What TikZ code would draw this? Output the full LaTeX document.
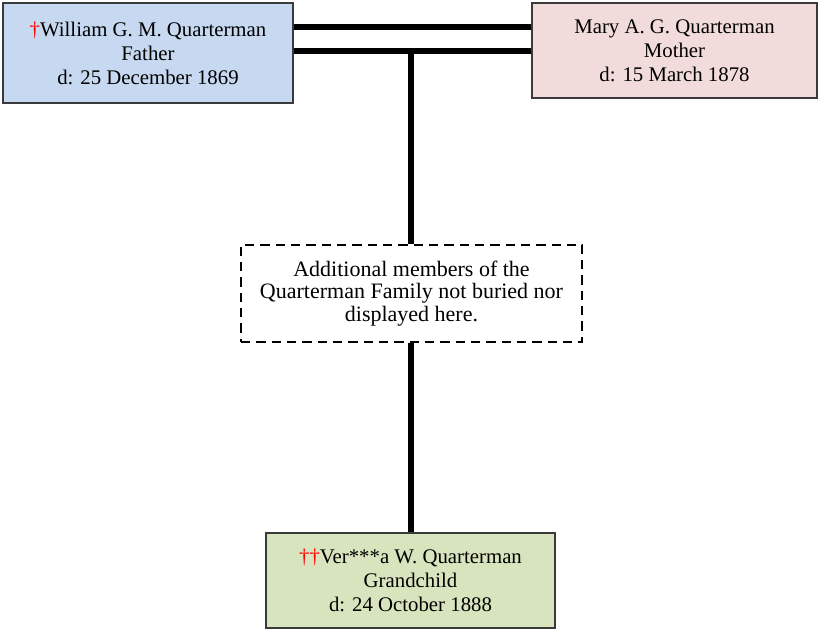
\documentclass[tikz,border=0pt]{standalone}
\usepackage{fontspec}
\setmainfont{Liberation Serif}
\usepackage{tikz}

\definecolor{fatherblue}{HTML}{C6D9F1}
\definecolor{motherpink}{HTML}{F2DCDB}
\definecolor{childgreen}{HTML}{D7E4BD}
\definecolor{boxline}{HTML}{3A3A3A}
\newcommand{\rdag}{{\color{red}\textdagger}}

\begin{document}
\begin{tikzpicture}[
    x=0.75pt, y=-0.75pt,
    person/.style={rectangle, draw=boxline, line width=1.4pt, align=center,
        inner sep=0pt, font=\fontsize{15.6}{18}\selectfont},
    extra/.style={rectangle, draw=black, line width=1.4pt, dash pattern=on 7pt off 4.5pt,
        align=center, inner sep=0pt, font=\fontsize{16.5}{17}\selectfont},
    couple/.style={line width=4.5pt},
    link/.style={line width=3.8pt}
]
    \useasboundingbox (0,0) rectangle (819,630);

    \node[person, fill=fatherblue, minimum width=218pt, minimum height=75pt] (father) at (148,53)
        {\rdag William G. M. Quarterman\\Father\\d: 25 December 1869};
    \node[person, fill=motherpink, minimum width=214pt, minimum height=71pt] (mother) at (674.5,50.5)
        {Mary A. G. Quarterman\\Mother\\d: 15 March 1878};
    \node[extra, minimum width=256pt, minimum height=73pt] (others) at (411.5,293.5)
        {Additional members of the\\Quarterman Family not buried nor\\displayed here.};
    \node[person, fill=childgreen, minimum width=217pt, minimum height=71pt] (child) at (410.5,580.5)
        {\rdag\rdag Ver***a W. Quarterman\\Grandchild\\d: 24 October 1888};

    % marriage lines
    \draw[couple] ([yshift=19.5pt]father.east) -- ([yshift=19.5pt]father.east -| mother.west);
    \draw[couple] ([yshift=1.5pt]father.east) -- ([yshift=1.5pt]father.east -| mother.west);
    \coordinate (wed) at (411,51);

    % descent
    \draw[link] (wed) -- (wed |- others.north);
    \draw[link] (others.south -| wed) -- (child.north -| wed);
\end{tikzpicture}
\end{document}
